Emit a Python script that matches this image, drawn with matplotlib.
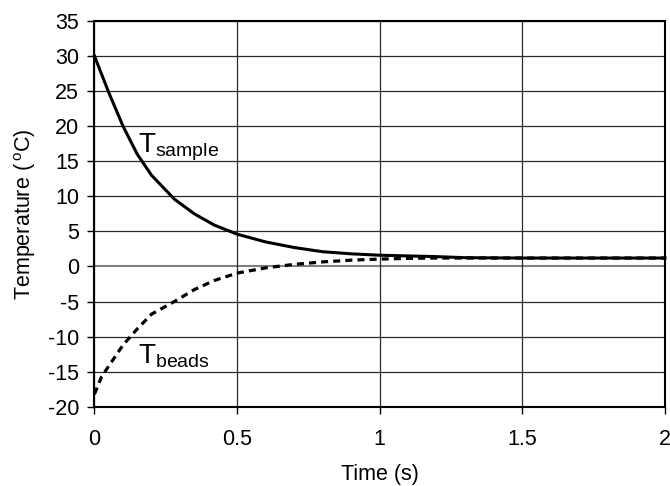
import matplotlib
matplotlib.use("Agg")
import matplotlib.pyplot as plt

# data
time_s = [0, 0.025, 0.05, 0.1, 0.15, 0.2, 0.28, 0.35, 0.42, 0.5, 0.6, 0.7,
          0.8, 0.9, 1.0, 1.1, 1.2, 1.3, 1.5, 1.75, 2.0]
t_sample = [30, 27.4, 24.8, 20.0, 16.0, 13.0, 9.6, 7.5, 5.9, 4.6, 3.5, 2.7,
            2.1, 1.8, 1.6, 1.5, 1.4, 1.25, 1.2, 1.2, 1.2]
t_beads = [-18.2, -15.7, -14.2, -11.2, -8.9, -6.8, -5.0, -3.3, -2.0, -0.95,
           -0.2, 0.3, 0.65, 0.9, 1.05, 1.15, 1.2, 1.2, 1.2, 1.2, 1.2]

x_ticks = [0, 0.5, 1, 1.5, 2]
x_ticklabels = ["0", "0.5", "1", "1.5", "2"]
y_ticks = [-20, -15, -10, -5, 0, 5, 10, 15, 20, 25, 30, 35]

plt.rcParams["font.family"] = ["Liberation Sans", "DejaVu Sans"]
plt.rcParams["mathtext.fontset"] = "custom"
plt.rcParams["mathtext.rm"] = "Liberation Sans"
plt.rcParams["mathtext.it"] = "Liberation Sans:italic"
plt.rcParams["axes.unicode_minus"] = False

fig = plt.figure(figsize=(6.7, 4.86), dpi=100)
ax = fig.add_axes([0.141, 0.163, 0.8515, 0.794])

for y in y_ticks:
    if y == 0:
        ax.axhline(y, color="#808080", lw=1.5, zorder=1)
    else:
        ax.axhline(y, color="#2a2a2a", lw=0.9, zorder=1)
for x in x_ticks:
    ax.axvline(x, color="#2a2a2a", lw=0.9, zorder=1)

ax.plot(time_s, t_sample, color="black", lw=2.2, zorder=3, clip_on=False)
ax.plot(time_s, t_beads, color="black", lw=2.3, linestyle=(0, (2.2, 1.6)),
        zorder=3, clip_on=False)

ax.text(0.152, 16.3, r"$\mathrm{T_{sample}}$", fontsize=20, va="baseline", ha="left")
ax.text(0.152, -13.8, r"$\mathrm{T_{beads}}$", fontsize=20, va="baseline", ha="left")

ax.set_xlim(0, 2)
ax.set_ylim(-20, 35)
ax.set_xticks(x_ticks)
ax.set_xticklabels(x_ticklabels)
ax.set_yticks(y_ticks)

for s in ax.spines.values():
    s.set_linewidth(1.5)
    s.set_color("black")

ax.tick_params(axis="both", direction="out", length=5, width=1, labelsize=15.5)
ax.tick_params(axis="x", pad=11)
ax.tick_params(axis="y", pad=6)

ax.set_xlabel("Time (s)", fontsize=15.5, labelpad=10)
ax.set_ylabel(r"Temperature ($\,^{\mathrm{o}}$C)", fontsize=15.5, labelpad=7)

fig.savefig("out.png", dpi=100)
